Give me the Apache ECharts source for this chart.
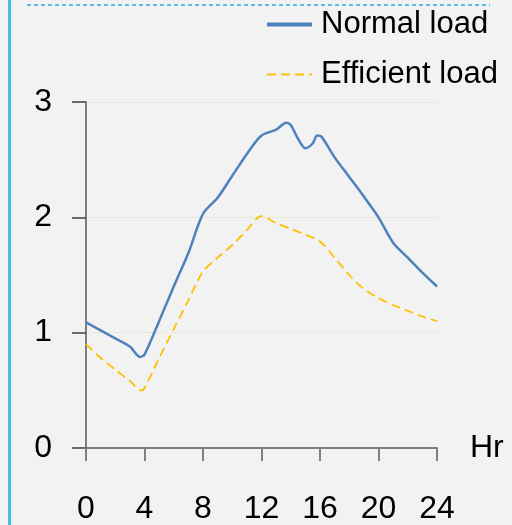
<!DOCTYPE html>
<html>
<head>
<meta charset="utf-8">
<script src="https://cdn.jsdelivr.net/npm/echarts@6/dist/echarts.min.js"></script>
<style>
  html, body { margin: 0; padding: 0; background: #f2f2f2; }
  #chart { width: 512px; height: 525px; }
</style>
</head>
<body>
<div id="chart"></div>
<script>
// 数据
var seriesNames = ['Normal load', 'Efficient load'];
var normalHours = [0, 1, 2, 3, 3.7, 4, 5, 6, 7, 8, 9, 10, 11, 12, 13, 13.7, 14, 14.5, 15, 15.5, 15.8, 16.1, 17, 18, 19, 20, 21, 22, 23, 24];
var normalLoad = [1.09, 1.02, 0.95, 0.88, 0.79, 0.81, 1.1, 1.4, 1.69, 2.03, 2.17, 2.36, 2.55, 2.71, 2.76, 2.82, 2.8, 2.68, 2.6, 2.64, 2.71, 2.7, 2.52, 2.35, 2.18, 2.0, 1.78, 1.65, 1.52, 1.4];
var efficientHours = [0, 1, 2, 3, 3.8, 4, 5, 6, 7, 8, 9, 10, 11, 12, 13, 14, 15, 16, 17, 18, 19, 20, 21, 22, 23, 24];
var efficientLoad = [0.9, 0.78, 0.68, 0.58, 0.5, 0.52, 0.78, 1.03, 1.28, 1.53, 1.65, 1.76, 1.89, 2.01, 1.95, 1.9, 1.85, 1.79, 1.65, 1.5, 1.38, 1.3, 1.24, 1.19, 1.14, 1.1];

function pairs(xs, ys) {
  return xs.map(function (x, i) { return [x, ys[i]]; });
}

var myChart = echarts.init(document.getElementById('chart'));
var font = 'Liberation Sans, Arial, sans-serif';
var option = {
  backgroundColor: '#f2f2f2',
  animation: false,
  // 左边框和顶部虚线
  graphic: [
    { type: 'rect', shape: { x: 8, y: 0, width: 3, height: 525 }, style: { fill: '#45bdea' } },
    { type: 'line', shape: { x1: 27, y1: 5, x2: 490, y2: 5 }, style: { stroke: '#29abe2', lineWidth: 1.5, lineDash: [4, 3] } }
  ],
  legend: {
    orient: 'vertical',
    left: 260,
    top: 4,
    itemWidth: 45,
    itemHeight: 14,
    itemGap: 19,
    // 图例只显示线，不显示圆点
    itemStyle: { opacity: 0 },
    textStyle: { fontSize: 31, fontFamily: font, color: '#000', padding: [0, 0, 0, 4] },
    data: [
      { name: seriesNames[0], lineStyle: { width: 4 } },
      { name: seriesNames[1], lineStyle: { width: 2 } }
    ]
  },
  grid: {
    left: 86,
    right: 75,
    top: 102,
    bottom: 77
  },
  xAxis: {
    type: 'value',
    min: 0,
    max: 24,
    interval: 4,
    name: 'Hr',
    nameLocation: 'end',
    nameGap: 33,
    nameTextStyle: { fontSize: 32, fontFamily: font, color: '#000', verticalAlign: 'middle', padding: [12, 0, 0, 0] },
    axisLine: { lineStyle: { color: '#7f7f7f', width: 2 } },
    axisTick: { show: true, inside: false, length: 13, lineStyle: { color: '#7f7f7f', width: 2 } },
    axisLabel: { fontSize: 32, fontFamily: font, color: '#000', margin: 45 },
    splitLine: { show: false }
  },
  yAxis: {
    type: 'value',
    min: 0,
    max: 3,
    interval: 1,
    axisLine: { show: true, lineStyle: { color: '#7f7f7f', width: 2 } },
    axisTick: { show: true, inside: false, length: 14, lineStyle: { color: '#404040', width: 1.5 } },
    axisLabel: { fontSize: 32, fontFamily: font, color: '#000', margin: 34 },
    splitLine: { lineStyle: { color: '#ebe8d8', width: 1 } }
  },
  series: [
    {
      name: seriesNames[0],
      type: 'line',
      smooth: 0.3,
      symbol: 'none',
      color: '#4f81bd',
      lineStyle: { color: '#4f81bd', width: 2.5 },
      data: pairs(normalHours, normalLoad)
    },
    {
      name: seriesNames[1],
      type: 'line',
      smooth: 0.3,
      symbol: 'none',
      color: '#ffc000',
      lineStyle: { color: '#ffc000', width: 1.8, type: [9, 5] },
      data: pairs(efficientHours, efficientLoad)
    }
  ]
};
myChart.setOption(option);
</script>
</body>
</html>
